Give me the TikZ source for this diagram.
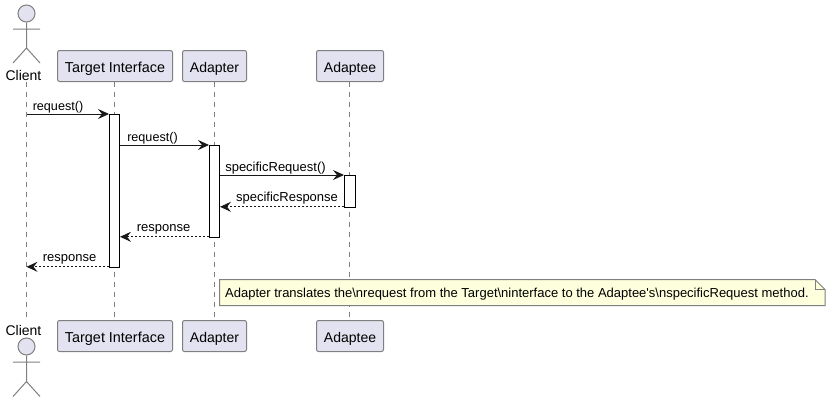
\documentclass[tikz,border=0pt]{standalone}
\usepackage{fontspec}
\newfontfamily\pf{Liberation Sans}
\usetikzlibrary{arrows.meta,calc}
\definecolor{partfill}{HTML}{E2E2F0}
\definecolor{notefill}{HTML}{FEFFDD}
\definecolor{edge}{HTML}{7F7F7F}
\definecolor{ink}{HTML}{181818}
\tikzset{
  px/.style={x=1pt,y=-1pt},
  part/.style={draw=edge,fill=partfill,rounded corners=2pt,line width=1pt,minimum height=31pt,inner sep=0pt,text height=12.4pt,text depth=0.2pt,font=\pf\fontsize{14}{16}\selectfont,text=black,anchor=center},
  actorname/.style={inner sep=0pt,font=\pf\fontsize{14}{16}\selectfont,text=black},
  head/.style={circle,draw=edge,fill=partfill,line width=1pt,minimum size=17pt,inner sep=0pt},
  stick/.style={draw=edge,line width=1pt},
  life/.style={draw=edge,line width=1pt,dash pattern=on 5pt off 5pt},
  activ/.style={draw=black,fill=white,line width=1pt,minimum width=10pt,inner sep=0pt},
  msg/.style={draw=ink,line width=1pt,-{Stealth[length=11pt,width=10pt,inset=4pt,fill=ink]}},
  ret/.style={msg,dash pattern=on 2pt off 2pt},
  lab/.style={inner sep=0pt,font=\pf\fontsize{13}{15}\selectfont,text=black},
  notetxt/.style={inner sep=0pt,font=\pf\fontsize{13}{15}\selectfont,text=black,anchor=west}
}
\begin{document}
\begin{tikzpicture}[px]
\useasboundingbox (0,0) rectangle (831,402);
% lifeline ends
\coordinate (cT) at (26.5,82); \coordinate (cB) at (26.5,320);
\draw[life] (cT) -- (cB);
% participants
\node[part,minimum width=115pt] (tT) at (115,66) {\fontsize{14.4}{16}\selectfont Target Interface};
\node[part,minimum width=64pt] (aT) at (214.5,66) {Adapter};
\node[part,minimum width=67pt] (eT) at (350,66) {Adaptee};
\node[part,minimum width=115pt] (tB) at (115,336) {\fontsize{14.4}{16}\selectfont Target Interface};
\node[part,minimum width=64pt] (aB) at (214.5,336) {Adapter};
\node[part,minimum width=67pt] (eB) at (350,336) {Adaptee};
\coordinate (tTl) at (114.5,81.5); \coordinate (tBl) at (114.5,320.5);
\coordinate (aTl) at (214.5,81.5); \coordinate (aBl) at (214.5,320.5);
\coordinate (eTl) at (349.5,81.5); \coordinate (eBl) at (349.5,320.5);
\draw[life] (tTl) -- (tBl);
\draw[life] (aTl) -- (aBl);
\draw[life] (eTl) -- (eBl);
% actors
\node[head] (h1) at (26.5,13.5) {};
\node[actorname] (n1) at (23.5,75) {Client};
\coordinate (hip1) at (26.5,48);
\coordinate (arml1) at (13,29); \coordinate (armr1) at (40,29);
\coordinate (legl1) at (13,63); \coordinate (legr1) at (40,63);
\draw[stick] (h1.south) -- (hip1) (arml1) -- (armr1) (legl1) -- (hip1) -- (legr1);
\node[head] (h2) at (26.5,346.5) {};
\node[actorname] (n2) at (23.5,330) {Client};
\coordinate (hip2) at (26.5,381.5);
\coordinate (arml2) at (13,362); \coordinate (armr2) at (40,362);
\coordinate (legl2) at (13,396.5); \coordinate (legr2) at (40,396.5);
\draw[stick] (h2.south) -- (hip2) (arml2) -- (armr2) (legl2) -- (hip2) -- (legr2);
% activations
\node[activ,minimum height=152.5pt] (a1) at (114.5,190.75) {};
\node[activ,minimum height=91.5pt] (a2) at (214.5,191.25) {};
\node[activ,minimum height=31.5pt,minimum width=11pt] (a3) at (350,191.25) {};
% messages
\draw[msg] (a1.north west -| cT) -- (a1.north west);
\draw[msg] (a2.north west -| a1.east) -- (a2.north west);
\draw[msg] (a3.north west -| a2.east) -- (a3.north west);
\draw[ret] ([yshift=0.7pt]a3.south west) -- ([yshift=0.7pt]a3.south west -| a2.east);
\draw[ret] ([yshift=0.7pt]a2.south west) -- ([yshift=0.7pt]a2.south west -| a1.east);
\draw[ret] ([yshift=0.7pt]a1.south west) -- ([yshift=0.7pt]a1.south west -| cT);
% labels
\node[lab] (l1) at (58,107.3) {\fontsize{12.6}{15}\selectfont request()};
\node[lab] (l2) at (152.5,138.3) {\fontsize{12.6}{15}\selectfont request()};
\node[lab] (l3) at (275.5,168.3) {specificRequest()};
\node[lab] (l4) at (287,198.3) {specificResponse};
\node[lab] (l5) at (163.5,229.5) {response};
\node[lab] (l6) at (69.5,259.5) {response};
% note
\path[draw=edge,fill=notefill,line width=1pt] (219.5,279.5) -- (815,279.5) -- (825,289.5) -- (825,305.5) -- (219.5,305.5) -- cycle;
\path[draw=edge,line width=1pt] (815,279.5) -- (815,289.5) -- (825,289.5);
\node[notetxt] (nt) at (225,294.5) {Adapter translates the\textbackslash nrequest from the Target\textbackslash ninterface to the Adaptee's\textbackslash nspecificRequest method.};
\end{tikzpicture}
\end{document}
